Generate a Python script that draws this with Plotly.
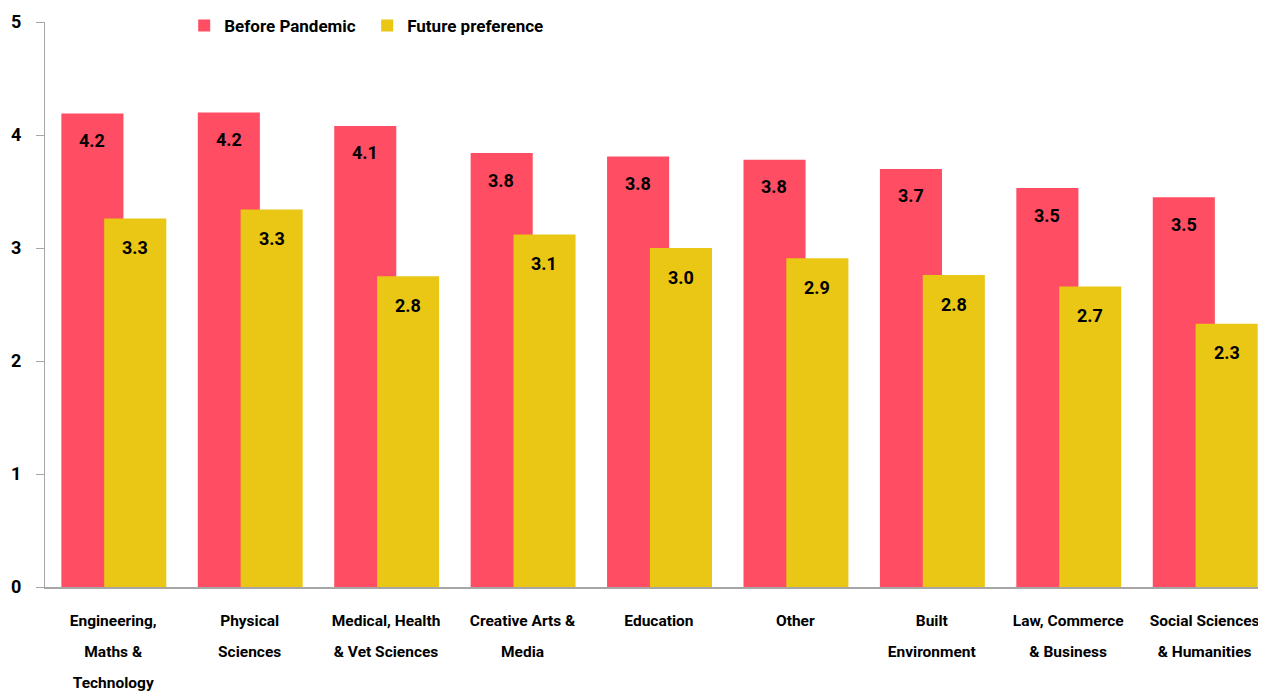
import plotly.graph_objects as go

# categories and values
categories = ["Engineering,<br>Maths &<br>Technology", "Physical<br>Sciences",
              "Medical, Health<br>& Vet Sciences", "Creative Arts &<br>Media",
              "Education", "Other", "Built<br>Environment",
              "Law, Commerce<br>& Business", "Social Sciences<br>& Humanities"]
before = [4.19, 4.20, 4.08, 3.84, 3.81, 3.78, 3.70, 3.53, 3.45]
future = [3.26, 3.34, 2.75, 3.12, 3.00, 2.91, 2.76, 2.66, 2.33]
y_ticks = [0, 1, 2, 3, 4, 5]

FONT = "Liberation Sans Narrow, Roboto, sans-serif"
RED = "#FF4D64"
YELLOW = "#EAC615"

x = list(range(len(categories)))

def f(size):
    return dict(family=FONT, size=size, color="black", weight="bold")

# small glyphs inside a bigger tick font -> wider line spacing like the original
tick_text = ["<br>".join('<span style="font-size:15.5px">%s</span>' % s for s in c.split("<br>"))
             for c in categories]

fig = go.Figure()
fig.add_trace(go.Bar(x=x, y=before, name="Before Pandemic", marker_color=RED,
                     marker_line_width=0, width=0.455, offset=-0.38))
fig.add_trace(go.Bar(x=x, y=future, name="Future preference", marker_color=YELLOW,
                     marker_line_width=0, width=0.455, offset=-0.066))

# value labels just under the top of each bar
for i in x:
    fig.add_annotation(x=i, y=before[i], text="%.1f" % before[i], showarrow=False,
                       xshift=-21, yshift=-27, font=f(18))
    fig.add_annotation(x=i, y=future[i], text="%.1f" % future[i], showarrow=False,
                       xshift=22, yshift=-29, font=f(18))

# page body adds an 8px margin, so the figure is a bit smaller than the window
fig.update_layout(
    width=1258, height=683,
    margin=dict(l=37, r=0, t=14, b=104),
    barmode="overlay",
    plot_bgcolor="white", paper_bgcolor="white",
    font=f(17),
    showlegend=True,
    legend=dict(orientation="h", x=0.114, y=0.993, xanchor="left", yanchor="middle",
                font=f(17), itemwidth=30, entrywidth=138, bgcolor="rgba(0,0,0,0)"),
    xaxis=dict(tickmode="array", tickvals=x, ticktext=tick_text, tickangle=0,
               range=[-0.5, 8.45], showgrid=False, showline=True, linecolor="#A6A6A6",
               linewidth=2, ticks="", tickfont=f(24), automargin=False,
               ticklabelstandoff=8),
    yaxis=dict(range=[0, 5], tickvals=y_ticks, showgrid=False, zeroline=False,
               showline=True, linecolor="#A6A6A6", linewidth=1, ticks="outside",
               ticklen=8, tickcolor="#A6A6A6", ticklabelstandoff=11,
               tickfont=f(18)),
)

fig.write_html("out.html")
